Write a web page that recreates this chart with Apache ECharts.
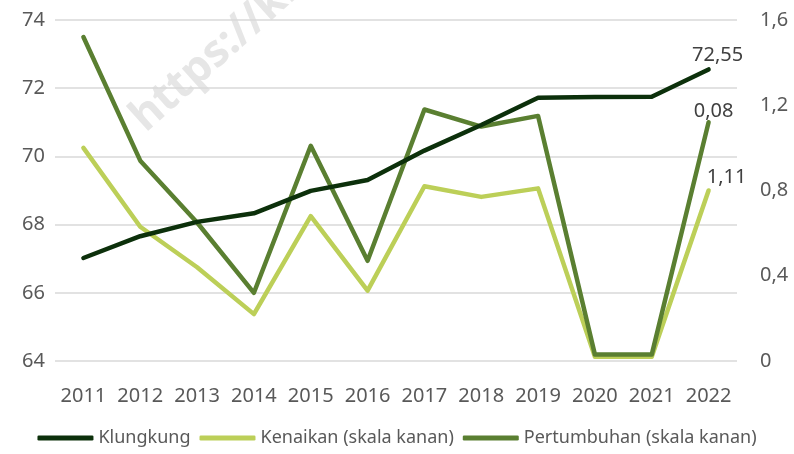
<!DOCTYPE html>
<html>
<head>
<meta charset="utf-8">
<script src="https://cdn.jsdelivr.net/npm/echarts@6/dist/echarts.min.js"></script>
<style>
  html, body { margin: 0; padding: 0; background: #fff; }
  #chart { width: 794px; height: 454px; }
</style>
</head>
<body>
<div id="chart"></div>
<script>
const years = ['2011','2012','2013','2014','2015','2016','2017','2018','2019','2020','2021','2022'];
const klungkung = [67.02, 67.66, 68.08, 68.33, 68.99, 69.31, 70.17, 70.92, 71.72, 71.74, 71.75, 72.55];
const kenaikan = [1.00, 0.63, 0.44, 0.22, 0.68, 0.33, 0.82, 0.77, 0.81, 0.02, 0.02, 0.80];
const pertumbuhan = [1.52, 0.94, 0.65, 0.32, 1.01, 0.47, 1.18, 1.10, 1.15, 0.03, 0.03, 1.12];
// labels shown at the last point (as printed in the source)
const endLabels = ['72,55', '1,11', '0,08'];

const font = 'Noto Sans';
const txt = '#595959';

// put a label on the last point only
function withEndLabel(vals, text, offset) {
  return vals.map((v, i) => {
    if (i !== vals.length - 1) return v;
    return {
      value: v,
      label: {
        show: true, position: 'top', offset: offset, formatter: text,
        fontFamily: font, fontSize: 20, color: '#404040'
      }
    };
  });
}

const chart = echarts.init(document.getElementById('chart'));
chart.setOption({
  animation: false,
  grid: { left: 55, right: 57, top: 20, bottom: 93 },
  graphic: [{
    type: 'text',
    rotation: 0.73,
    z: -1,
    x: 152, y: 140,
    style: {
      text: 'https://klungkungkab.bps.go.id',
      fill: '#e6e6e6',
      font: 'bold 44px "Noto Sans"',
      align: 'left',
      verticalAlign: 'bottom'
    }
  }],
  legend: {
    bottom: 2,
    left: 'center',
    icon: 'roundRect',
    itemWidth: 56,
    itemHeight: 5,
    itemGap: 9,
    textStyle: { fontFamily: font, fontSize: 18, color: txt },
    data: ['Klungkung', 'Kenaikan (skala kanan)', 'Pertumbuhan (skala kanan)']
  },
  xAxis: {
    type: 'category',
    data: years,
    axisLine: { show: false },
    axisTick: { show: false },
    axisLabel: { fontFamily: font, fontSize: 20, color: txt, margin: 25, interval: 0 }
  },
  yAxis: [{
    type: 'value', min: 64, max: 74, interval: 2,
    axisLabel: { fontFamily: font, fontSize: 20, color: txt, margin: 10 },
    splitLine: { lineStyle: { color: '#d9d9d9', width: 1.5 } }
  }, {
    type: 'value', min: 0, max: 1.6, interval: 0.4,
    axisLabel: {
      fontFamily: font, fontSize: 20, color: txt, margin: 23,
      formatter: v => String(Math.round(v * 10) / 10).replace('.', ',')
    },
    splitLine: { show: false }
  }],
  series: [{
    name: 'Klungkung', type: 'line', yAxisIndex: 0,
    data: withEndLabel(klungkung, endLabels[0], [9, 1]),
    symbol: 'circle', symbolSize: 0, color: '#0c300b',
    lineStyle: { width: 4.5, cap: 'round', join: 'round' }, z: 4
  }, {
    name: 'Kenaikan (skala kanan)', type: 'line', yAxisIndex: 1,
    data: withEndLabel(kenaikan, endLabels[1], [18, 2]),
    symbol: 'circle', symbolSize: 0, color: '#bccf58',
    lineStyle: { width: 4.5, cap: 'round', join: 'round' }, z: 2
  }, {
    name: 'Pertumbuhan (skala kanan)', type: 'line', yAxisIndex: 1,
    data: withEndLabel(pertumbuhan, endLabels[2], [5, 4]),
    symbol: 'circle', symbolSize: 0, color: '#5a7f31',
    lineStyle: { width: 4.5, cap: 'round', join: 'round' }, z: 3
  }]
});
</script>
</body>
</html>
